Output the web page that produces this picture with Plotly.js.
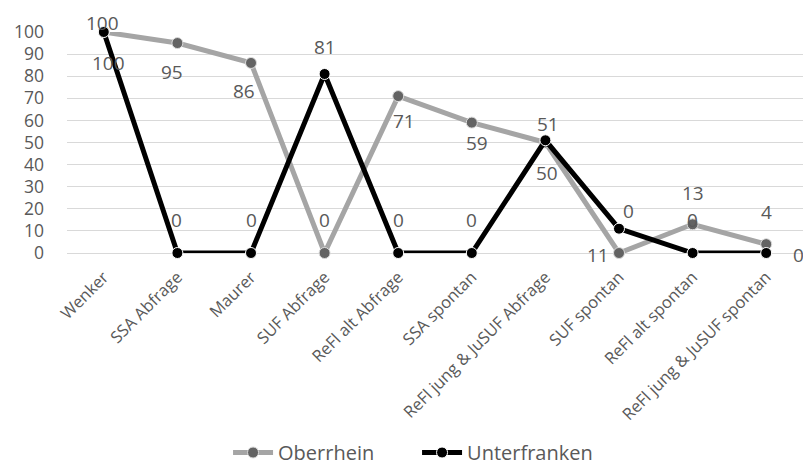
<!DOCTYPE html>
<html>
<head>
<meta charset="utf-8">
<script src="https://cdn.plot.ly/plotly-3.0.1.min.js"></script>
<style>
  html, body { margin: 0; padding: 0; background: #fff; }
  #chart { width: 803px; height: 472px; }
</style>
</head>
<body>
<div id="chart"></div>
<script>
// Survey sources along the x axis
const categories = [
  'Wenker', 'SSA Abfrage', 'Maurer', 'SUF Abfrage', 'ReFl alt Abfrage',
  'SSA spontan', 'ReFl jung & JuSUF Abfrage', 'SUF spontan',
  'ReFl alt spontan', 'ReFl jung & JuSUF spontan'
];

// Values per region
const oberrhein    = [100, 95, 86, 0, 71, 59, 50, 0, 13, 4];
const unterfranken = [100, 0, 0, 81, 0, 0, 51, 11, 0, 0];

const yTicks = [0, 10, 20, 30, 40, 50, 60, 70, 80, 90, 100];

// Pixel offsets of each value label relative to its point [dx, dy(up)]
const oberrheinLabelShift = [
  [5, -31], [-5, -29], [-7, -28], [0, 33], [6, -25],
  [5, -20], [2, -30], [9, 42], [0, 31], [0, 32]
];
const unterfrankenLabelShift = [
  [-1, 9], [-1, 33], [0, 33], [0, 27], [0, 33],
  [0, 33], [3, 16], [-21, -26], [0, 33], [32, -2]
];

const FONT = '"Open Sans", Lato, sans-serif';
const TEXT_COLOR = '#595959';

function labelsFor(values, shifts) {
  return values.map((v, i) => ({
    x: categories[i], y: v, xref: 'x', yref: 'y',
    text: String(v), showarrow: false,
    xshift: shifts[i][0], yshift: shifts[i][1],
    font: { family: FONT, size: 19, color: TEXT_COLOR }
  }));
}

const traces = [
  {
    name: 'Oberrhein', x: categories, y: oberrhein,
    type: 'scatter', mode: 'lines+markers', cliponaxis: false,
    line: { color: '#a5a5a5', width: 5 },
    marker: { color: '#636363', size: 11, line: { color: '#dcdcdc', width: 1 } }
  },
  {
    name: 'Unterfranken', x: categories, y: unterfranken,
    type: 'scatter', mode: 'lines+markers', cliponaxis: false,
    line: { color: '#000000', width: 5 },
    marker: { color: '#000000', size: 11, line: { color: '#ffffff', width: 1 } }
  }
];

const layout = {
  width: 803, height: 472,
  margin: { l: 67, r: 0, t: 32, b: 219 },
  paper_bgcolor: '#ffffff', plot_bgcolor: '#ffffff',
  font: { family: FONT, color: TEXT_COLOR },
  showlegend: true,
  legend: {
    orientation: 'h', xref: 'container', x: 0.284, xanchor: 'left',
    yref: 'container', y: 0, yanchor: 'bottom',
    font: { family: FONT, size: 20, color: TEXT_COLOR },
    itemwidth: 40, tracegroupgap: 0, entrywidth: 134
  },
  xaxis: {
    type: 'category', range: [-0.5, 9.5],
    showgrid: false, zeroline: false, showline: false,
    // invisible tick marks keep the slanted labels clear of the baseline
    ticks: 'outside', ticklen: 7, tickcolor: 'rgba(0,0,0,0)',
    tickangle: -45,
    tickfont: { family: FONT, size: 16.5, color: TEXT_COLOR },
    fixedrange: true
  },
  yaxis: {
    range: [0, 100], tickvals: yTicks,
    showgrid: true, gridcolor: '#d9d9d9', gridwidth: 1,
    zeroline: true, zerolinecolor: '#d9d9d9', zerolinewidth: 1,
    showline: false, ticks: '', ticklabelstandoff: 22,
    tickfont: { family: FONT, size: 17.5, color: TEXT_COLOR },
    fixedrange: true
  },
  annotations: [
    ...labelsFor(oberrhein, oberrheinLabelShift),
    ...labelsFor(unterfranken, unterfrankenLabelShift)
  ]
};

Plotly.newPlot('chart', traces, layout, { displayModeBar: false, staticPlot: true });
</script>
</body>
</html>
